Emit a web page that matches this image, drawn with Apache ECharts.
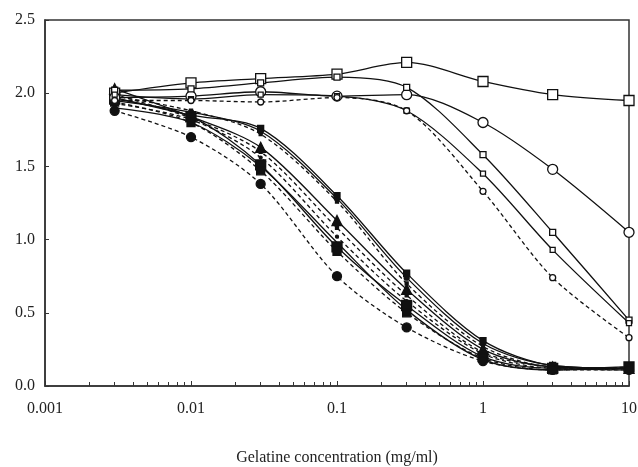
<!DOCTYPE html>
<html>
<head>
<meta charset="utf-8">
<script src="https://cdn.jsdelivr.net/npm/echarts@6/dist/echarts.min.js"></script>
<style>html,body{margin:0;padding:0;background:#fff}#c{width:638px;height:467px}</style>
</head>
<body>
<div id="c"></div>
<script>
var concentrations = [0.003, 0.01, 0.03, 0.1, 0.3, 1, 3, 10];
var xTickLabels = ['0.001', '0.01', '0.1', '1', '10'];
var yTickLabels = ['0.0', '0.5', '1.0', '1.5', '2.0', '2.5'];

// upper group (slow decline)
var seriesA = [2.00, 2.07, 2.10, 2.13, 2.21, 2.08, 1.99, 1.95];
var seriesB = [1.97, 1.98, 2.01, 1.98, 1.99, 1.80, 1.48, 1.05];
var seriesC = [2.02, 2.03, 2.07, 2.11, 2.04, 1.58, 1.05, 0.45];
var seriesD = [1.99, 1.96, 1.99, 1.98, 1.88, 1.45, 0.93, 0.43];
var seriesE = [1.95, 1.95, 1.94, 1.97, 1.88, 1.33, 0.74, 0.33];
// lower group (fast decline)
var seriesL1 = [1.97, 1.85, 1.76, 1.30, 0.77, 0.31, 0.14, 0.12];
var seriesL2 = [1.95, 1.87, 1.74, 1.28, 0.74, 0.29, 0.14, 0.12];
var seriesL3 = [1.98, 1.88, 1.72, 1.26, 0.70, 0.27, 0.13, 0.12];
var seriesL4 = [2.03, 1.84, 1.63, 1.13, 0.66, 0.25, 0.13, 0.12];
var seriesL5 = [1.99, 1.83, 1.60, 1.08, 0.62, 0.23, 0.13, 0.11];
var seriesL6 = [1.93, 1.82, 1.56, 1.02, 0.58, 0.22, 0.12, 0.11];
var seriesL7 = [1.96, 1.84, 1.51, 0.95, 0.55, 0.20, 0.12, 0.13];
var seriesL8 = [1.94, 1.80, 1.47, 0.92, 0.50, 0.19, 0.11, 0.13];
var seriesL9 = [1.90, 1.80, 1.50, 0.98, 0.52, 0.18, 0.11, 0.12];
var seriesL10 = [1.88, 1.70, 1.38, 0.75, 0.40, 0.17, 0.11, 0.11];

var minorTicks = [];
[0.001, 0.01, 0.1, 1].forEach(function (d) {
  for (var k = 2; k <= 9; k++) minorTicks.push(+(d * k).toPrecision(3));
});

function pairs(vals) {
  return concentrations.map(function (x, i) { return [x, vals[i]]; });
}
function mk(name, vals, symbol, size, filled, dashed) {
  return {
    name: name, type: 'line', data: pairs(vals), smooth: 0.3,
    symbol: symbol, symbolSize: size, showSymbol: symbol !== 'none',
    lineStyle: { color: '#111', width: 1.3, type: dashed ? [4, 3] : 'solid' },
    itemStyle: { color: filled ? '#111' : '#fff', borderColor: '#111', borderWidth: 1.3 },
    z: filled ? 3 : 4
  };
}

var font = 'Liberation Serif';
var chart = echarts.init(document.getElementById('c'));
chart.setOption({
  animation: false,
  backgroundColor: '#fff',
  grid: { left: 45, right: 9, top: 20, bottom: 81, containLabel: false, outerBoundsMode: 'none',
    show: true, borderColor: '#333', borderWidth: 1.5, backgroundColor: 'transparent' },
  xAxis: [{
    type: 'log', logBase: 10, min: 0.001, max: 10,
    name: 'Gelatine concentration (mg/ml)', nameLocation: 'middle', nameGap: 64,
    nameTextStyle: { fontFamily: font, fontSize: 16, color: '#222' },
    axisLine: { lineStyle: { color: '#333', width: 1.5 } },
    axisTick: { inside: true, length: 5, lineStyle: { color: '#333' } },
    axisLabel: { fontFamily: font, fontSize: 16, color: '#222', margin: 15,
      formatter: function (v) { var i = Math.round(Math.log10(v) + 3); return xTickLabels[i] || ''; } },
    splitLine: { show: false }
  }, {
    type: 'log', logBase: 10, min: 0.001, max: 10, position: 'bottom',
    axisLine: { show: false },
    axisTick: { inside: true, length: 4, customValues: minorTicks, lineStyle: { color: '#333' } },
    axisLabel: { show: false },
    splitLine: { show: false }
  }],
  yAxis: {
    type: 'value', min: 0, max: 2.5, interval: 0.5,
    axisLine: { show: true, lineStyle: { color: '#333', width: 1.5 } },
    axisTick: { show: true, inside: true, length: 4, lineStyle: { color: '#333' } },
    axisLabel: { fontFamily: font, fontSize: 16, color: '#222', margin: 10,
      formatter: function (v) { return yTickLabels[Math.round(v / 0.5)]; } },
    splitLine: { show: false }
  },
  series: [
    mk('A', seriesA, 'rect', 10, false, false),
    mk('B', seriesB, 'circle', 10, false, false),
    mk('C', seriesC, 'rect', 6, false, false),
    mk('D', seriesD, 'rect', 5, false, false),
    mk('E', seriesE, 'circle', 6, false, true),
    mk('L1', seriesL1, 'rect', 6, true, false),
    mk('L2', seriesL2, 'circle', 5, true, false),
    mk('L3', seriesL3, 'rect', 3, true, true),
    mk('L4', seriesL4, 'triangle', 10, true, false),
    mk('L5', seriesL5, 'rect', 3, true, true),
    mk('L6', seriesL6, 'circle', 3, true, true),
    mk('L7', seriesL7, 'rect', 10, true, false),
    mk('L8', seriesL8, 'rect', 8, true, true),
    mk('L9', seriesL9, 'none', 0, true, false),
    mk('L10', seriesL10, 'circle', 9, true, true)
  ]
});
</script>
</body>
</html>
